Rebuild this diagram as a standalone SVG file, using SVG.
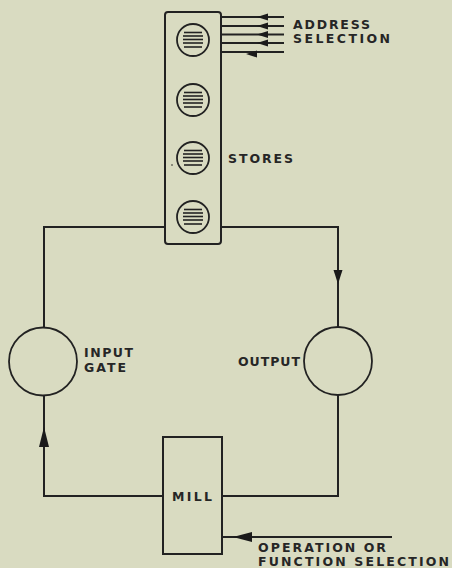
<svg xmlns="http://www.w3.org/2000/svg" width="452" height="568" viewBox="0 0 452 568">
<defs>
<style>
.bg{fill:#d9dbc1}
.ln{stroke:#222;stroke-width:2;fill:none}
.cl{stroke:#222;stroke-width:1.8;fill:none}
.hatch{stroke:#222;stroke-width:1.6}
.ah{fill:#1a1a1a}
text{font-family:"DejaVu Sans","Liberation Sans",sans-serif;font-weight:bold;font-size:12.5px;fill:#262626}
</style>
<g id="storeDisc">
<circle r="16" class="cl"/>
<line x1="-9" y1="-7.5" x2="9" y2="-7.5" class="hatch"/>
<line x1="-10" y1="-4" x2="10" y2="-4" class="hatch"/>
<line x1="-10" y1="-0.5" x2="10" y2="-0.5" class="hatch"/>
<line x1="-10" y1="3" x2="10" y2="3" class="hatch"/>
<line x1="-9" y1="7" x2="9" y2="7" class="hatch"/>
</g>
</defs>
<rect class="bg" x="0" y="0" width="452" height="568"/>

<g id="connectors">
<line x1="221" y1="17" x2="284" y2="17" class="ln"/>
<line x1="221" y1="26" x2="284" y2="26" class="ln"/>
<line x1="221" y1="34.5" x2="284" y2="34.5" class="ln"/>
<line x1="221" y1="43" x2="284" y2="43" class="ln"/>
<line x1="221" y1="52" x2="284" y2="52" class="ln"/>
<path class="ah" d="M257,17 L268,13.5 L268,20.5 Z"/>
<path class="ah" d="M257,26 L268,22.5 L268,29.5 Z"/>
<path class="ah" d="M257,34.5 L268,31 L268,38 Z"/>
<path class="ah" d="M257,43 L268,39.5 L268,46.5 Z"/>
<path class="ah" d="M246,54 L257,50.5 L257,57.5 Z"/>
<polyline points="221,227 338,227 338,327" class="ln"/>
<path class="ah" d="M338,284 L333.5,270 L342.5,270 Z"/>
<polyline points="338,395 338,496 222,496" class="ln"/>
<polyline points="163,496 44,496 44,395" class="ln"/>
<path class="ah" d="M44,427 L39,447 L49,447 Z"/>
<polyline points="44,328 44,227 165,227" class="ln"/>
<line x1="222" y1="537" x2="392" y2="537" class="ln"/>
<path class="ah" d="M233,537 L252,532 L252,542 Z"/>
</g>

<g id="stores">
<rect x="165" y="12" width="56" height="232" rx="3" class="ln"/>
<use href="#storeDisc" x="193" y="40"/>
<use href="#storeDisc" x="193" y="100"/>
<use href="#storeDisc" x="193" y="158"/>
<use href="#storeDisc" x="193" y="217"/>
<circle cx="172" cy="165" r="0.8" fill="#222"/>
<text x="228" y="163" textLength="65" lengthAdjust="spacing">STORES</text>
</g>

<g id="address-label">
<text x="293" y="29" textLength="77" lengthAdjust="spacing">ADDRESS</text>
<text x="293" y="43" textLength="97" lengthAdjust="spacing">SELECTION</text>
</g>

<g id="input-gate">
<circle cx="43" cy="361.5" r="34" class="cl"/>
<text x="84" y="357" textLength="49" lengthAdjust="spacing">INPUT</text>
<text x="84" y="372" textLength="42" lengthAdjust="spacing">GATE</text>
</g>

<g id="output">
<circle cx="338" cy="361" r="34" class="cl"/>
<text x="238" y="366" textLength="62" lengthAdjust="spacing">OUTPUT</text>
</g>

<g id="mill">
<rect x="163" y="437" width="59" height="117" class="ln"/>
<text x="172" y="501" textLength="40" lengthAdjust="spacing">MILL</text>
</g>

<g id="operation-label">
<text x="258" y="552" textLength="128" lengthAdjust="spacing">OPERATION OR</text>
<text x="258" y="566" textLength="191" lengthAdjust="spacing">FUNCTION SELECTION</text>
</g>
</svg>
